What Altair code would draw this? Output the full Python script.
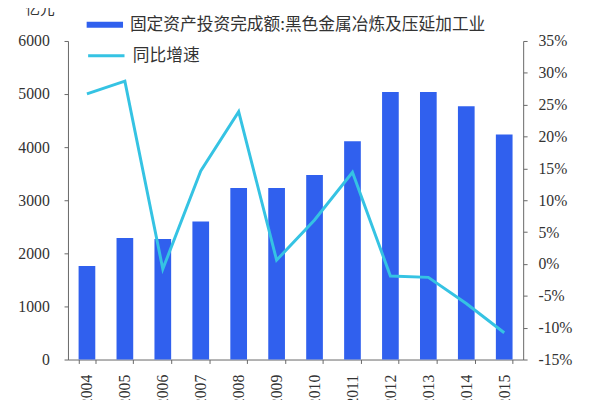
import altair as alt
import pandas as pd

years = ["2004", "2005", "2006", "2007", "2008", "2009", "2010", "2011", "2012", "2013", "2014", "2015"]
invest = [1760, 2290, 2270, 2600, 3230, 3230, 3475, 4110, 5040, 5040, 4770, 4240]
growth = [26.7, 28.7, -0.8, 14.6, 23.9, 0.6, 6.9, 14.4, -1.9, -2.1, -6.2, -10.8]

bar_name = "固定资产投资完成额:黑色金属冶炼及压延加工业"
line_name = "同比增速"

SERIF = "Times New Roman"

df = pd.DataFrame({"year": years, "invest": invest, "growth": growth,
                   "s1": bar_name, "s2": line_name})

x = alt.X("year:N", title=None, sort=years,
          scale=alt.Scale(paddingInner=0.56, paddingOuter=0.28),
          axis=alt.Axis(labelAngle=-90, tickBand="extent", tickSize=4, labelPadding=11,
                        labelFont=SERIF, labelFontSize=16, labelColor="#333",
                        domainColor="#666", tickColor="#666"))

bars = alt.Chart(df).mark_bar().encode(
    x=x,
    y=alt.Y("invest:Q", scale=alt.Scale(domain=[0, 6000]),
            axis=alt.Axis(values=[0, 1000, 2000, 3000, 4000, 5000, 6000], grid=False,
                          format="d", labelFont=SERIF, labelFontSize=16, labelColor="#333",
                          title="亿元", titleAngle=0, titleX=-29, titleY=-33,
                          titleAlign="center", titleBaseline="middle",
                          titleFont="Noto Sans CJK SC", titleFontSize=15,
                          titleFontWeight="normal", titleColor="#333",
                          tickSize=4, labelPadding=15)),
    fill=alt.Fill("s1:N", scale=alt.Scale(range=["#3060ee"]),
                  legend=alt.Legend(title=None, orient="none", legendX=19, legendY=-35,
                                    symbolType="M-1,-0.16L1,-0.16L1,0.16L-1,0.16Z",
                                    symbolSize=1369, symbolFillColor="#2b4fcc",
                                    symbolStrokeWidth=0, labelOffset=7)),
)

line = alt.Chart(df).mark_line(strokeWidth=3).encode(
    x=x,
    y=alt.Y("growth:Q", scale=alt.Scale(domain=[-15, 35]),
            axis=alt.Axis(orient="right", values=list(range(-15, 40, 5)), grid=False,
                          title=None, labelExpr="datum.value + '%'",
                          labelFont=SERIF, labelFontSize=16, labelColor="#333",
                          tickSize=4, labelPadding=11)),
    stroke=alt.Stroke("s2:N", scale=alt.Scale(range=["#35c3e3"]),
                      legend=alt.Legend(title=None, orient="none", legendX=19, legendY=-5,
                                        symbolType="stroke", symbolSize=1369,
                                        symbolStrokeWidth=3, labelOffset=7)),
)

chart = alt.layer(bars, line).resolve_scale(
    y="independent", fill="independent", stroke="independent"
).resolve_legend(fill="independent", stroke="independent").properties(
    width=463, height=324,
    autosize=alt.AutoSizeParams(type="none"),
    padding={"left": 61, "top": 30, "right": 70, "bottom": 60},
).configure_view(stroke=None).configure_axis(
    domainColor="#666", tickColor="#666",
).configure_legend(
    labelFont="Noto Sans CJK SC", labelFontSize=17, labelColor="#333",
    labelLimit=500, rowPadding=0,
)

chart.save("out.html", embed_options={"renderer": "svg", "actions": False})
